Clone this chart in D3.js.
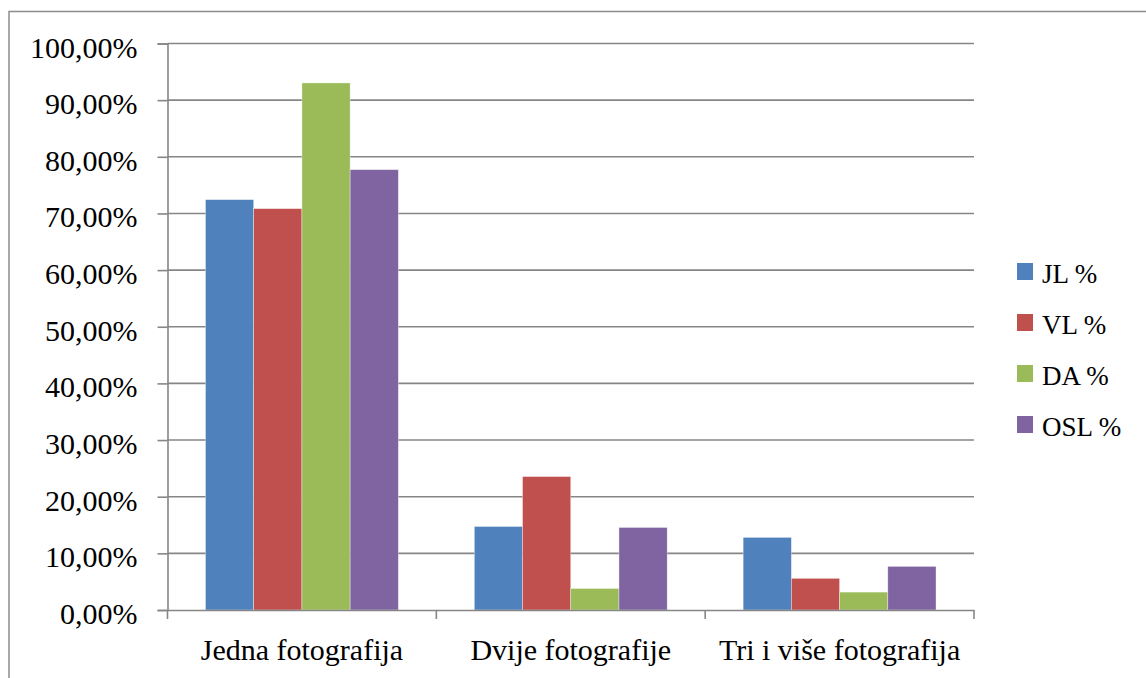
<!DOCTYPE html>
<html>
<head>
<meta charset="utf-8">
<script src="https://cdn.jsdelivr.net/npm/d3@7/dist/d3.min.js"></script>
<style>
  html, body { margin: 0; padding: 0; background: #fff; }
  svg { display: block; }
  svg text { font-family: "Liberation Serif", "Times New Roman", "DejaVu Serif", serif; fill: #000; }
</style>
</head>
<body>
<svg id="chart" width="1146" height="678"></svg>
<script>
// ---- data ----
const categories = ["Jedna fotografija", "Dvije fotografije", "Tri i više fotografija"];
const seriesNames = ["JL %", "VL %", "DA %", "OSL %"];
const JL  = [72.44, 14.74, 12.82];
const VL  = [70.85, 23.56, 5.59];
const DA  = [93.04, 3.80, 3.16];
const OSL = [77.73, 14.57, 7.70];
const seriesValues = [JL, VL, DA, OSL];
const yTicks = [0, 10, 20, 30, 40, 50, 60, 70, 80, 90, 100];
const colors = ["#4F81BD", "#C0504D", "#9BBB59", "#8064A2"];

// ---- layout ----
const svg = d3.select("#chart");
const plot = { left: 167.5, right: 974, top: 43.5, bottom: 610 };
const axisColor = "#868686";
const serif = '"Liberation Serif", "Times New Roman", "DejaVu Serif", serif';

// outer frame (extends past right and bottom edges)
svg.append("rect")
  .attr("x", 9).attr("y", 11.5)
  .attr("width", 1146).attr("height", 700)
  .attr("fill", "none").attr("stroke", "#8c8c8c").attr("stroke-width", 1.5);

const y = d3.scaleLinear().domain([0, 100]).range([plot.bottom, plot.top]);
const x0 = d3.scaleBand().domain(categories).range([plot.left, plot.right]).padding(0);
const gap = 38 / 269;
const x1 = d3.scaleBand().domain(seriesNames)
  .range([x0.bandwidth() * gap, x0.bandwidth() * (1 - gap)]).padding(0);

// gridlines
svg.append("g").selectAll("line").data(yTicks.filter(d => d > 0)).join("line")
  .attr("x1", plot.left).attr("x2", plot.right)
  .attr("y1", d => y(d)).attr("y2", d => y(d))
  .attr("stroke", axisColor).attr("stroke-width", 1.6);

// bars
const groups = svg.append("g").selectAll("g").data(categories).join("g")
  .attr("transform", c => `translate(${x0(c)},0)`);
groups.selectAll("rect")
  .data((c, ci) => seriesNames.map((s, si) => ({ s, si, v: seriesValues[si][ci] })))
  .join("rect")
  .attr("x", d => x1(d.s))
  .attr("width", x1.bandwidth())
  .attr("y", d => y(d.v))
  .attr("height", d => y(0) - y(d.v))
  .attr("fill", d => colors[d.si])
  .attr("stroke", "#ffffff").attr("stroke-opacity", 0.6).attr("stroke-width", 0.6);

// y axis
const fmt = d => d3.format(".2f")(d).replace(".", ",") + "%";
const yAxis = svg.append("g")
  .attr("transform", `translate(${plot.left},0)`)
  .call(d3.axisLeft(y).tickValues(yTicks).tickFormat(fmt).tickSize(10).tickPadding(20));
yAxis.attr("font-family", serif);
yAxis.select(".domain").attr("stroke", axisColor).attr("stroke-width", 1.6);
yAxis.selectAll(".tick line").attr("stroke", axisColor).attr("stroke-width", 1.6);
yAxis.selectAll(".tick text")
  .attr("font-size", 30).attr("dy", "0.45em").attr("fill", "#000");

// x axis
const xAxis = svg.append("g")
  .attr("transform", `translate(0,${plot.bottom})`)
  .call(d3.axisBottom(x0).tickSize(0).tickPadding(0));
xAxis.attr("font-family", serif);
xAxis.select(".domain").attr("stroke", axisColor).attr("stroke-width", 1.6);
xAxis.selectAll(".tick text")
  .attr("font-size", 30).attr("y", 50).attr("dy", 0)
  .attr("fill", "#000");
// category separator ticks
const sepPos = [plot.left].concat(categories.map(c => x0(c) + x0.bandwidth()));
svg.append("g").selectAll("line").data(sepPos).join("line")
  .attr("x1", d => d).attr("x2", d => d)
  .attr("y1", plot.bottom).attr("y2", plot.bottom + 9)
  .attr("stroke", axisColor).attr("stroke-width", 1.6);

// legend
const legend = svg.append("g").attr("transform", "translate(1017,263)")
  .attr("font-family", serif);
const li = legend.selectAll("g").data(seriesNames).join("g")
  .attr("transform", (d, i) => `translate(0,${i * 51})`);
li.append("rect").attr("width", 16).attr("height", 17)
  .attr("fill", (d, i) => colors[i]);
li.append("text").attr("x", 25).attr("y", 19.5)
  .attr("font-size", 27).text(d => d);
</script>
</body>
</html>
